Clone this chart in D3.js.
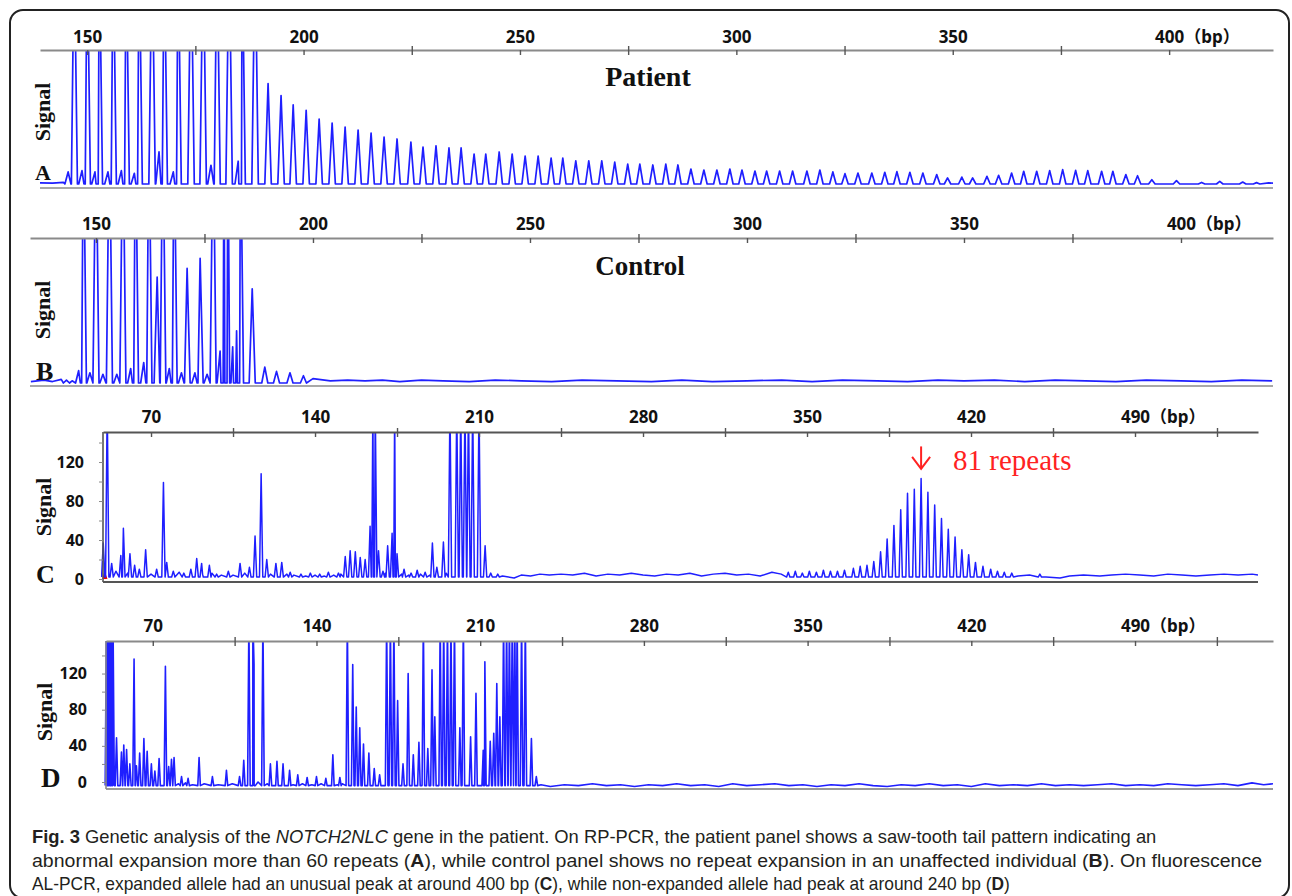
<!DOCTYPE html>
<html><head><meta charset="utf-8">
<script src="https://cdn.jsdelivr.net/npm/d3@7"></script>
<style>body{margin:0;background:#fff}svg{display:block}</style>
</head><body><svg id="c" width="1292" height="896"></svg>
<script>
// ---------------- DATA ----------------
const rpTicks = [150, 200, 250, 300, 350, 400];
const rpMinorTicks = [175, 225, 275, 325, 375];
const alTicks = [70, 140, 210, 280, 350, 420, 490];
const alMinorTicks = [105, 175, 245, 315, 385, 455, 525];
const signalTicks = [0, 40, 80, 120];
const signalMinorTicks = [20, 60, 100, 140];
const bpUnit = "（bp）";
const panelLetters = ["A", "B", "C", "D"];
const panelTitles = ["Patient", "Control"];
const axisTitle = "Signal";
const OFF = 180; // off-scale (saturated) peak

// Panel A (patient RP-PCR): [bp, signal]
const peaksA = [
[147.0,OFF],[150.0,OFF],[152.8,OFF],[156.0,OFF],[159.0,OFF],[162.0,OFF],[165.0,OFF],[167.8,OFF],[171.0,OFF],[174.0,OFF],[176.8,OFF],[180.0,OFF],[182.8,OFF],[185.8,OFF],[188.8,OFF],
[191.8,75],[194.8,66],[197.6,59],[200.6,55],[203.6,48.5],[206.6,45.5],[209.6,42.5],[212.6,40.3],[215.6,38],[218.6,35],[221.6,33.6],[224.8,31.3],[227.6,27.6],[230.6,28.4],[233.6,26.9],[236.4,26.9],[239.4,22.4],[242.1,22.4],[245.2,23.9],[248.2,22.4],[251.2,20.9],[254.2,20.9],[257.2,19.4],[259.9,19.4],[262.9,17.2],[265.9,17.2],[268.9,17.2],[271.9,16.4],[274.9,14.9],[277.7,14.9],[280.7,14.2],[283.7,14.9],[286.5,14.2],[289.5,11.2],[292.5,10.4],[295.5,10.4],[298.5,11.2],[301.3,10.4],[304.3,9.7],[307.0,9.7],[310.0,9.7],[313.0,9.7],[316.3,9.7],[319.3,10.4],[322.3,9.0],
[325.1,7.7],[328.1,8.2],[331.3,8.2],[334.3,8.7],[337.1,9.2],[340.1,8.7],[343.1,8.2],[346.3,7.0],[348.8,4.5],[352.1,5.2],[354.6,4.5],[357.9,5.7],[360.6,6.5],[363.6,8.2],[366.4,9.5],[369.4,9.5],[372.4,10.0],[375.4,10.7],[378.4,10.2],[381.2,10.0],[384.4,9.5],[387.0,9.5],[390.0,7.0],[392.7,6.2],[396.0,3.2],[401.7,2.5],[407.5,1.2],[411.7,2.0],[417.0,1.5],[420.2,1.0]
];
const stutterA = [[145.6,9],[148.8,10],[151.8,9],[154.8,9],[157.9,10],[160.9,8],[166.6,24],[169.9,9],[178.6,14],[184.9,17]];
const noiseA = [[139.1,0.8],[142,0.6],[144.5,1.2],[423,0.8],[424,0.6]];

// Panel B (control RP-PCR)
const peaksB = [
[147.1,OFF],[150.0,OFF],[153.1,OFF],[156.2,OFF],[159.1,OFF],[162.2,OFF],[164.1,73],[165.4,OFF],[168.0,OFF],[171.0,79],[174.0,86],[177.0,OFF],[179.5,OFF],[180.4,OFF],[182.4,36],[183.3,OFF],[186.0,65],[188.9,11],[191.6,8],[194.7,7],[197.8,5]
];
const stutterB = [[143.2,2],[146.0,8.5],[148.6,7],[151.6,6],[154.8,6],[158.0,10],[161.0,14],[166.9,10],[169.7,7],[172.8,7],[175.6,6],[178.6,22],[181.5,25]];
const noiseB = [[135,1],[138,2],[140,1],[142,2.5],[144.5,1.5],[200,3],[204,1.5],[208,2],[212,1.5],[216,2],[220,1],[225,2],[230,1.5],[236,1],[242,2],[248,1.5],[255,1],[262,2],[270,1.5],[278,1],[285,2],[292,1],[300,1.5],[308,2],[315,1],[322,2],[330,1.5],[337,1],[344,2],[350,1.5],[357,2],[364,1],[371,2],[378,1.5],[385,1],[392,2],[400,1.5],[407,1],[414,2],[421,1.5]];

// Panel C (patient AL-PCR)
const peaksC = [
[49.6,37],[51.3,OFF],[53.2,16],[57.1,24],[58.2,52],[61,26],[63,14],[65,10],[67.7,30],[72.4,10],[75.3,99],[76.7,17],[79.5,8],[84,6],[87,10],[89.5,21],[91.6,16],[94.9,14],[98,5],[103,8],[108,16],[112,12],[114.4,44],[117,108],[119.4,20],[123.3,16],[125.8,17],[129.4,7],[134,5],[138,6],[142,5],[145.7,7],[150,6],[152.9,23],[155,29],[157.2,28],[159.3,22],[161.4,20],[163.5,54],[164.7,OFF],[165.7,OFF],[167.1,29],[169,8],[171,34],[172.9,47],[174,OFF],[175,26],[178,10],[181,6],[183.6,9],[187,7],[190.1,37],[192,12],[194.8,38],[197.6,OFF],[200.5,OFF],[202.2,OFF],[204,OFF],[205.5,OFF],[207.3,OFF],[210,OFF],[212.6,34],[215,6],[218,5],
[342,7],[345,8],[348,6],[351,8],[354,7],[357,9],[360,8],[363,8],[366,9],[369.8,11],
[372.7,13],[375.6,14],[378.5,18],[381.4,28],[384.2,41],[387.1,55],[390,71],[392.9,88],[395.8,92],[398.7,103],[401.6,89],[404.5,76],[407.4,62],[410.3,51],[413.2,43],[416.1,30],[419,25],[421.9,17],[425.1,13],[428.4,10],[431.3,8],[434.2,7],[437.4,6],[449.4,5]
];
const noiseC = [[55,8],[60,6],[70,5],[80,4],[82,7],[92,5],[96,6],[100,4],[105,4],[110,6],[121,5],[128,5],[131,4],[136,3],[140,4],[144,3],[148,4],[151,5],[170,6],[177,5],[180,4],[185,5],[189,4],[196,6],
[220,3],[225,1],[228,4],[232,3],[236,5],[240,4],[245,5],[250,4],[255,6],[260,3],[265,5],[270,4],[275,6],[280,4],[285,3],[290,5],[295,4],[300,6],[305,3],[310,5],[315,6],[320,4],[325,5],[330,3],[335,7],[339,5],
[440,3],[445,4],[452,2],[458,1],[462,3],[468,4],[475,3],[480,4],[486,5],[492,4],[498,3],[504,5],[510,4],[516,3],[522,4],[528,5],[534,4],[540,5],[542.5,4]];
const redDyeC = [[49.5,0],[50.2,7],[51.2,0]];
const annotationC = {bp: 398.7, label: "81 repeats"};

// Panel D (control AL-PCR)
const peaksD = [
[50.2,OFF],[50.9,OFF],[51.6,OFF],[52.3,OFF],[53,OFF],[54.5,49],[56.6,33],[57.6,41],[58.8,36],[60.2,20],[62,136],[63,18],[64.4,32],[66.2,48],[67.6,34],[69.4,20],[70.9,12],[72.7,26],[75.4,128],[76.8,17],[78,25],[79.1,27],[82.3,6],[85.1,4],[89.8,27],[95.5,6],[101.5,13],[107.1,6],[108.9,24],[111.1,OFF],[112.8,OFF],[113.3,130],[117.1,OFF],[120.3,20],[123.1,23],[125.7,20],[128.5,13],[132,8],[136,5],[140,6],[144,4],[147,30],[150,5],
[153.2,OFF],[155.5,130],[157,83],[158.5,60],[160.1,42],[162.4,32],[164.7,15],[167,8],[170,OFF],[171.6,OFF],[173.1,OFF],[174.7,90],[177,20],[179.2,120],[181.4,30],[183.8,44],[185.7,OFF],[187.6,37],[189.4,124],[190.6,72],[192.9,OFF],[194.4,OFF],[196,OFF],[197.5,OFF],[199,OFF],[201.3,60],[202.8,OFF],[205.9,50],[208.2,98],[211.3,35],[212,133],[214.3,45],[215.8,54],[217.1,109],[218.4,72],[220,OFF],[221.3,OFF],[222.5,OFF],[223.7,OFF],[224.8,OFF],[225.8,OFF],[227.7,OFF],[229.3,OFF],[231.9,48],[234,6]
];
const noiseD = [[81,-2],[84,-1],[87,-3],[92,-2],[98,-3],[104,-2],[115,0],[119,-2],[130,-3],[134,-2],[138,-3],[142,-2],[149,-3],[151,-2],
[236,-3],[240,-5],[246,-3],[252,-4],[258,-2],[264,-4],[270,-3],[276,-5],[282,-3],[288,-4],[294,-2],[300,-4],[306,-3],[312,-5],[318,-2],[324,-4],[330,-3],[336,-2],[342,-4],[348,-3],[354,-5],[360,-3],[366,-4],[372,-2],[378,-4],[384,-5],[390,-3],[396,-4],[402,-2],[408,-4],[414,-3],[420,-5],[426,-2],[432,-4],[438,-3],[444,-4],[450,-2],[456,-4],[462,-3],[468,-4],[474,-3],[480,-2],[486,-4],[492,-3],[498,-4],[504,-2],[510,-3],[516,-4],[522,-3],[528,-2],[534,-4],[540,-1],[545,-3],[549,-2]];
const redDyeD = [[50,-4],[50.8,10],[53,-4]];

// Caption
const captionLines = [
  [["Fig. 3","b"],[" Genetic analysis of the ",""],["NOTCH2NLC","i"],[" gene in the patient. On RP-PCR, the patient panel shows a saw-tooth tail pattern indicating an",""]],
  [["abnormal expansion more than 60 repeats (",""],["A","b"],["), while control panel shows no repeat expansion in an unaffected individual (",""],["B","b"],["). On fluorescence",""]],
  [["AL-PCR, expanded allele had an unusual peak at around 400 bp (",""],["C","b"],["), while non-expanded allele had peak at around 240 bp (",""],["D","b"],[")",""]]
];

// ---------------- DRAWING ----------------
const svg = d3.select("#c");
const TICKFONT = "'Noto Sans','Noto Sans CJK SC',sans-serif";
const SERIF = "'Liberation Serif','Times New Roman',serif";
const TRACE = "#1f1fff";

svg.append("rect").attr("x",10).attr("y",10).attr("width",1279).attr("height",888)
  .attr("rx",13).attr("fill","none").attr("stroke","#222").attr("stroke-width",2);

function tracePoints(peaks, noise, base, hw) {
  const pts = noise.map(d => [d[0], d[1]]);
  peaks.forEach(([b, v]) => { pts.push([b - hw, base]); pts.push([b, v]); pts.push([b + hw, base]); });
  pts.sort((p, q) => p[0] - q[0]);
  return pts;
}

function panel(o) {
  const x = d3.scaleLinear().domain(o.xDomain).range(o.xRange);
  const y = d3.scaleLinear().domain(o.yDomain).range(o.yRange);
  const g = svg.append("g");
  const id = "clip" + o.name;
  svg.append("clipPath").attr("id", id).append("rect")
    .attr("x", o.xRange[0] - 2).attr("y", o.axisY).attr("width", o.xRange[1] - o.xRange[0] + 2)
    .attr("height", o.bottomY - o.axisY + 3);

  g.append("line").attr("x1", o.xRange[0]).attr("x2", o.xRange[1]).attr("y1", o.bottomY).attr("y2", o.bottomY)
    .attr("stroke", o.bottomColor).attr("stroke-width", 2);

  if (o.red) {
    g.append("path").datum(o.red).attr("d", d3.line().x(d => x(d[0])).y(d => y(d[1])))
      .attr("fill", "#e00").attr("stroke", "#e00").attr("stroke-width", 1).attr("clip-path", `url(#${id})`);
  }

  const pts = tracePoints(o.peaks, o.noise, o.base, o.hw);
  g.append("path").datum(pts)
    .attr("d", d3.line().x(d => x(d[0])).y(d => y(d[1])))
    .attr("fill", "none").attr("stroke", TRACE).attr("stroke-width", o.sw)
    .attr("stroke-linejoin", "round").attr("clip-path", `url(#${id})`);

  const all = [...o.ticks, ...o.minor].sort((a, b) => a - b);
  const last = o.ticks[o.ticks.length - 1];
  const ax = d3.axisTop(x).tickValues(all).tickSizeInner(-5).tickSizeOuter(0).tickPadding(o.pad)
    .tickFormat(d => o.ticks.includes(d) ? d : "");
  const axg = g.append("g").attr("transform", `translate(0,${o.axisY})`).call(ax);
  axg.select(".domain").attr("stroke", o.axisColor).attr("stroke-width", 2.2);
  axg.selectAll(".tick line").attr("stroke", "#555").attr("stroke-width", 1.4)
    .attr("y1", d => o.minor.includes(d) ? -4 : 0);
  axg.selectAll(".tick text").attr("font-family", TICKFONT).attr("font-weight", 700)
    .attr("font-size", 17).attr("fill", "#111");
  axg.selectAll(".tick").filter(d => d === last).select("text").each(function () {
    const t = d3.select(this);
    const w = this.getComputedTextLength();
    t.attr("text-anchor", "start").attr("x", -w / 2);
    t.append("tspan").text(bpUnit);
  });

  if (o.yAxis) {
    g.append("line").attr("x1", o.xRange[0]).attr("x2", o.xRange[0]).attr("y1", o.axisY).attr("y2", o.bottomY)
      .attr("stroke", o.axisColor).attr("stroke-width", 1.6);
    const yax = d3.axisLeft(y).tickValues([...signalTicks, ...signalMinorTicks].sort((a, b) => a - b))
      .tickSize(4).tickPadding(15).tickFormat(d => signalTicks.includes(d) ? d : "");
    const yg = g.append("g").attr("transform", `translate(${o.xRange[0]},0)`).call(yax);
    yg.select(".domain").remove();
    yg.selectAll(".tick line").attr("stroke", "#888");
    yg.selectAll(".tick text").attr("font-family", TICKFONT).attr("font-weight", 700)
      .attr("font-size", 16).attr("fill", "#111");
  }

  g.append("text").attr("transform", `translate(${o.sigX},${o.sigY}) rotate(-90)`)
    .attr("text-anchor", "middle").text(axisTitle)
    .attr("font-family", SERIF).attr("font-weight", 700).attr("font-size", 22).attr("fill", "#111");
  g.append("text").attr("x", o.letX).attr("y", o.letY).text(o.letter)
    .attr("font-family", SERIF).attr("font-weight", 700).attr("font-size", o.letSize).attr("fill", "#111");
  if (o.title) {
    g.append("text").attr("x", o.titleX).attr("y", o.titleY).attr("text-anchor", "middle").text(o.title)
      .attr("font-family", SERIF).attr("font-weight", 700).attr("font-size", o.titleSize).attr("fill", "#111");
  }
  return {x, y, g};
}

panel({name:"A", xDomain:[139.1,424], xRange:[40,1273], yDomain:[0,100], yRange:[184,50],
  axisY:50, bottomY:188, pad:7, ticks:rpTicks, minor:rpMinorTicks, axisColor:"#8a8a8a", bottomColor:"#a8a8a8",
  peaks:[...peaksA, ...stutterA], noise:noiseA, base:0, hw:0.75, sw:1.7,
  sigX:50, sigY:112, letter:panelLetters[0], letX:35, letY:180, letSize:22,
  title:panelTitles[0], titleX:648, titleY:86, titleSize:28});

panel({name:"B", xDomain:[134.8,421.2], xRange:[30,1273], yDomain:[0,100], yRange:[383,238],
  axisY:238, bottomY:386, pad:8, ticks:rpTicks, minor:rpMinorTicks, axisColor:"#8a8a8a", bottomColor:"#a8a8a8",
  peaks:[...peaksB, ...stutterB], noise:noiseB, base:0, hw:0.7, sw:1.7,
  sigX:50, sigY:310, letter:panelLetters[1], letX:36, letY:380, letSize:26,
  title:panelTitles[1], titleX:640, titleY:275, titleSize:27});

const pC = panel({name:"C", xDomain:[49.5,542.5], xRange:[103,1258], yDomain:[0,150.8], yRange:[579,432],
  axisY:432, bottomY:582, pad:9, ticks:alTicks, minor:alMinorTicks, axisColor:"#555", bottomColor:"#555",
  peaks:peaksC, noise:noiseC, base:2, hw:0.7, sw:1.5, yAxis:true, red:redDyeC,
  sigX:51, sigY:507, letter:panelLetters[2], letX:36, letY:583, letSize:26});

panel({name:"D", xDomain:[50,549], xRange:[106,1273], yDomain:[0,156], yRange:[782,641],
  axisY:641, bottomY:789, pad:9, ticks:alTicks, minor:alMinorTicks, axisColor:"#8a8a8a", bottomColor:"#999",
  peaks:peaksD, noise:noiseD, base:-4, hw:0.55, sw:1.6, yAxis:true, red:redDyeD,
  sigX:52, sigY:712, letter:panelLetters[3], letX:41, letY:787, letSize:27});

{
  const ax = pC.x(annotationC.bp), top = pC.y(136), bot = pC.y(113);
  const ag = pC.g.append("g").attr("stroke", "#f22").attr("stroke-width", 2).attr("fill", "none");
  ag.append("line").attr("x1", ax).attr("x2", ax).attr("y1", top).attr("y2", bot);
  ag.append("path").attr("d", `M${ax-9},${bot-12}L${ax},${bot}L${ax+9},${bot-12}`);
  pC.g.append("text").attr("x", ax + 32).attr("y", bot + 1).text(annotationC.label)
    .attr("font-family", SERIF).attr("font-size", 29).attr("fill", "#f22");
}

const lineEnds = [1157, 1263, 1010];
captionLines.forEach((parts, i) => {
  const t = svg.append("text").attr("x", 0).attr("y", 0)
    .attr("font-family", "'Liberation Sans',Arial,sans-serif").attr("font-size", 18.5)
    .attr("fill", "#231f20");
  parts.forEach(([s, st]) => {
    const ts = t.append("tspan").text(s);
    if (st === "b") ts.attr("font-weight", 700);
    if (st === "i") ts.attr("font-style", "italic");
  });
  const w = t.node().getComputedTextLength();
  const sx = (lineEnds[i] - 32) / w;
  t.attr("transform", `translate(32,${843 + i * 23.5}) scale(${sx},1)`);
});
</script></body></html>
